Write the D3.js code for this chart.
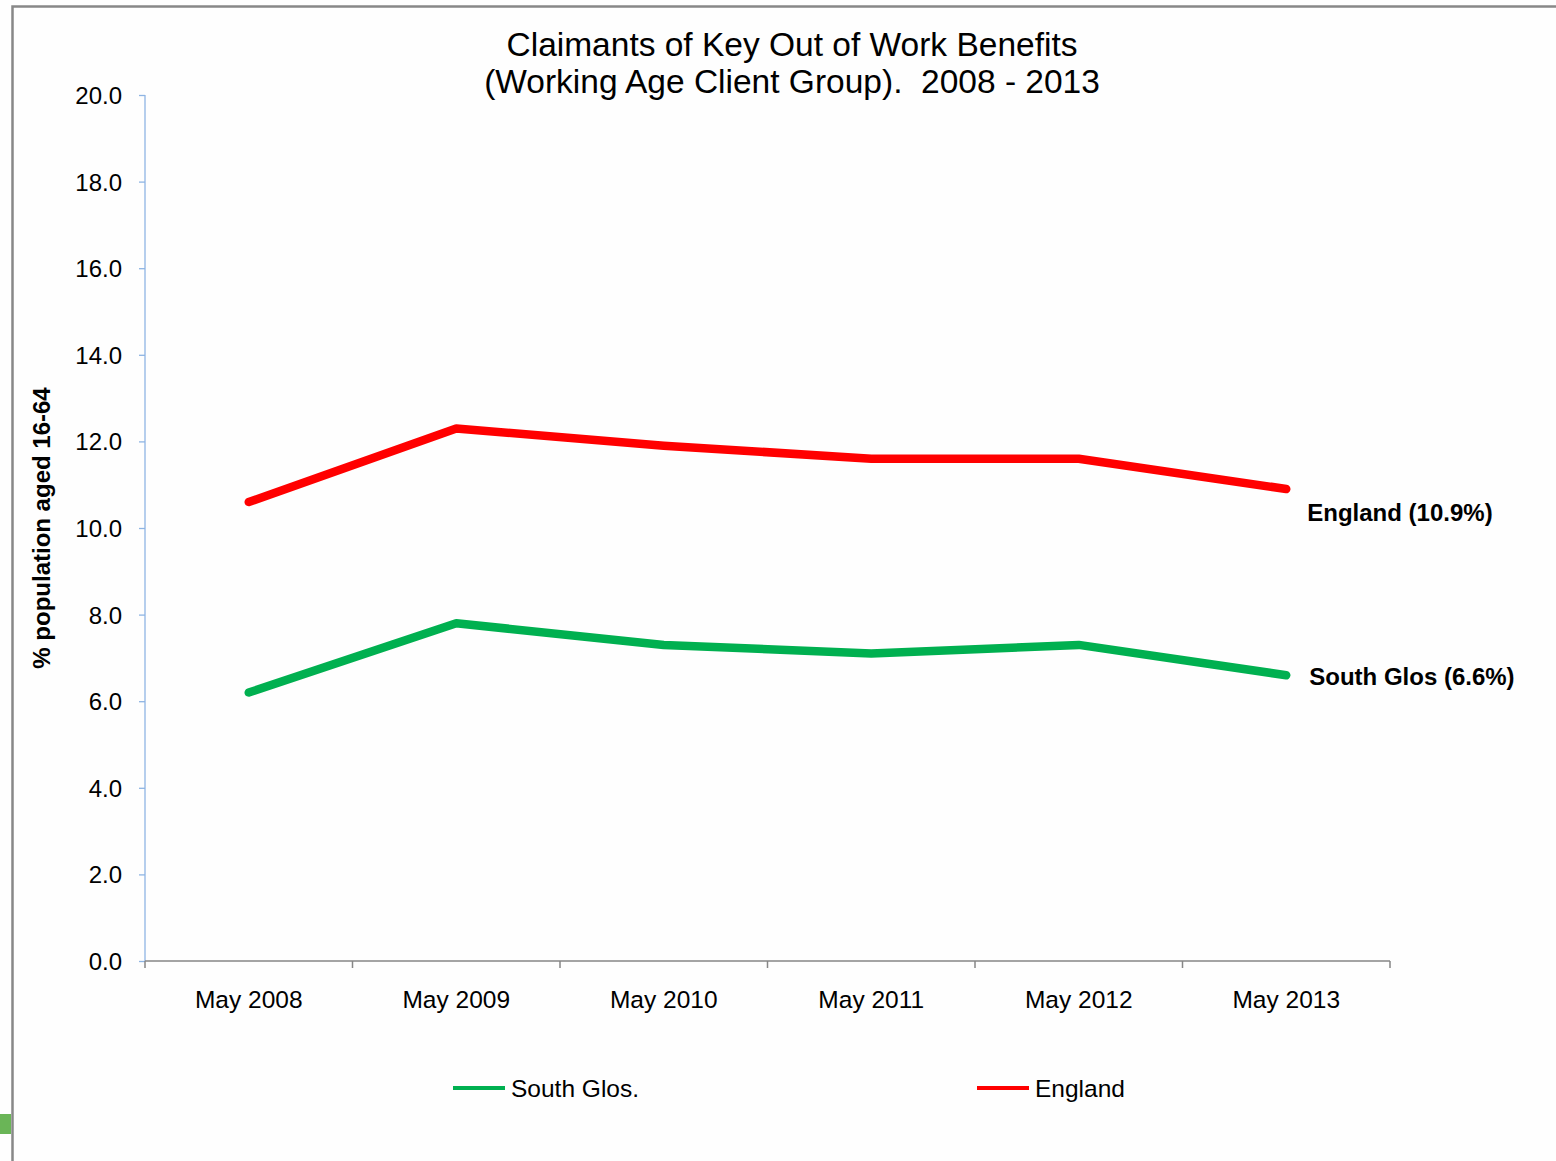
<!DOCTYPE html>
<html>
<head>
<meta charset="utf-8">
<script src="https://cdn.jsdelivr.net/npm/d3@7"></script>
<style>
  html, body { margin: 0; padding: 0; background: #fefefe; }
  svg { display: block; }
  text { font-family: "Liberation Sans", Arial, sans-serif; fill: #000; }
</style>
</head>
<body>
<svg id="chart" width="1556" height="1161"></svg>
<script>
const categories = ["May 2008", "May 2009", "May 2010", "May 2011", "May 2012", "May 2013"];
const southGlos = [6.2, 7.8, 7.3, 7.1, 7.3, 6.6];
const england = [10.6, 12.3, 11.9, 11.6, 11.6, 10.9];
const yTicks = [0, 2, 4, 6, 8, 10, 12, 14, 16, 18, 20];
const seriesNames = ["South Glos.", "England"];
const endLabels = ["South Glos (6.6%)", "England (10.9%)"];
const titleLines = ["Claimants of Key Out of Work Benefits", "(Working Age Client Group).  2008 - 2013"];
const yTitle = "% population aged 16-64";

const colors = { "South Glos.": "#00b050", "England": "#ff0000" };

const svg = d3.select("#chart");

// frame
svg.append("rect").attr("x", 0).attr("y", 0).attr("width", 1556).attr("height", 1161).attr("fill", "#fefefe");
svg.append("path").attr("d", "M12.5,1161 L12.5,6.5 L1556,6.5").attr("fill", "none").attr("stroke", "#888").attr("stroke-width", 2.5);
svg.append("rect").attr("x", 0).attr("y", 1114).attr("width", 11).attr("height", 20).attr("fill", "#6ab557");

const pL = 145, pR = 1390, pT = 95, pB = 961;

const x = d3.scaleBand().domain(categories).range([pL, pR]);
const y = d3.scaleLinear().domain([0, 20]).range([pB, pT]);

// y axis
const yAxis = svg.append("g").attr("transform", `translate(${pL},0)`)
  .call(d3.axisLeft(y).tickValues(yTicks).tickFormat(d3.format(".1f")).tickSize(6).tickPadding(17));
yAxis.select(".domain").attr("stroke", "#8eb4e3").attr("stroke-width", 1.3).attr("d", `M0,${pT}V${pB}`);
yAxis.selectAll(".tick line").attr("stroke", "#8eb4e3").attr("stroke-width", 1.3);
yAxis.selectAll(".tick text").style("font-size", "24px").style("font-family", "'Liberation Sans', Arial, sans-serif").attr("fill", "#000").attr("dy", "0.35em");

// x axis
const xAxis = svg.append("g").attr("transform", `translate(0,${pB})`)
  .call(d3.axisBottom(x).tickSize(0).tickPadding(30));
xAxis.select(".domain").attr("stroke", "#868686").attr("stroke-width", 1.5).attr("d", `M${pL},0H${pR}`);
xAxis.selectAll(".tick text").style("font-size", "24.5px").style("font-family", "'Liberation Sans', Arial, sans-serif").attr("fill", "#000");
const boundaries = categories.map(c => x(c)).concat([pR]);
xAxis.selectAll(".bnd").data(boundaries).enter().append("line")
  .attr("x1", d => d).attr("x2", d => d).attr("y1", 0).attr("y2", 7)
  .attr("stroke", "#868686").attr("stroke-width", 1.5);

// lines
const line = d3.line().x((d, i) => x(categories[i]) + x.bandwidth() / 2).y(d => y(d));
const data = [southGlos, england];
data.forEach((vals, k) => {
  svg.append("path").datum(vals).attr("d", line)
    .attr("fill", "none").attr("stroke", colors[seriesNames[k]])
    .attr("stroke-width", 8.5).attr("stroke-linecap", "round").attr("stroke-linejoin", "round");
});

// end labels
const lastX = x(categories[categories.length - 1]) + x.bandwidth() / 2;
svg.append("text").attr("x", lastX + 23).attr("y", y(southGlos[5]) + 10)
  .style("font-size", "24px").style("font-weight", "bold").text(endLabels[0]);
svg.append("text").attr("x", lastX + 21).attr("y", y(england[5]) + 32)
  .style("font-size", "24px").style("font-weight", "bold").text(endLabels[1]);

// title
svg.append("text").attr("x", 792).attr("y", 56).attr("text-anchor", "middle")
  .style("font-size", "33.5px").text(titleLines[0]);
svg.append("text").attr("x", 792).attr("y", 93).attr("text-anchor", "middle")
  .style("font-size", "33.5px").attr("xml:space", "preserve").text(titleLines[1]);

// y title
svg.append("text").attr("transform", "translate(50,528) rotate(-90)").attr("text-anchor", "middle")
  .style("font-size", "24px").style("font-weight", "bold").text(yTitle);

// legend
const legendX = [453, 977];
seriesNames.forEach((n, i) => {
  svg.append("line").attr("x1", legendX[i]).attr("x2", legendX[i] + 52).attr("y1", 1088).attr("y2", 1088)
    .attr("stroke", colors[n]).attr("stroke-width", 4);
  svg.append("text").attr("x", legendX[i] + 58).attr("y", 1097).style("font-size", "24.5px").text(n);
});
</script>
</body>
</html>
